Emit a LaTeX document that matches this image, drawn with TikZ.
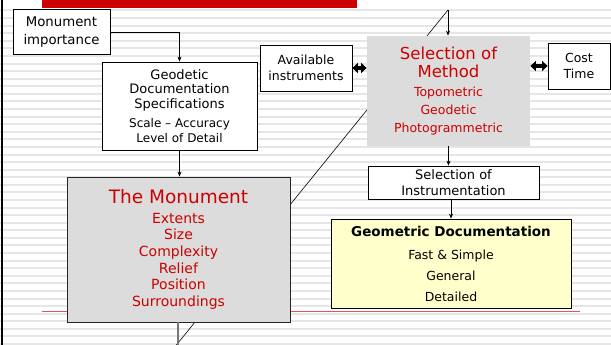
\documentclass[tikz,border=0pt]{standalone}
\usepackage{fontspec}
\setmainfont{DejaVu Sans}
\usetikzlibrary{arrows.meta}
\definecolor{stripe}{HTML}{E6E6E6}
\definecolor{darkred}{HTML}{CC0000}
\definecolor{boxgray}{HTML}{DCDCDC}
\definecolor{paleyellow}{HTML}{FFFFCC}
\definecolor{redline}{HTML}{E05555}
\definecolor{linegray}{HTML}{777777}
\begin{document}
\begin{tikzpicture}[x=1pt,y=-1pt,
  box/.style={draw=black,line width=0.8pt,fill=white,inner sep=0pt,align=center,font=\fontsize{12.5}{16}\selectfont},
  arr/.style={-{Stealth[length=5pt,width=4pt]},line width=0.6pt},
  dbl/.style={{Triangle[length=5.5pt,width=10pt]}-{Triangle[length=5.5pt,width=10pt]},line width=4pt},
]
\useasboundingbox (0,0) rectangle (611,345);
\fill[white] (0,0) rectangle (611,345);
\foreach \i in {0,...,44} {\fill[stripe] (0,{9.5+7.58*\i}) rectangle (611,{11.5+7.58*\i});}
\fill[black] (1,0) rectangle (3,345);
\fill[darkred] (42,0) rectangle (357,8);
\draw[redline,line width=1pt] (42,311) -- (580,311);

\coordinate (top) at (448,10);
\coordinate (diagend) at (176.4,345);
\coordinate (monbot) at (178,345);
\draw[line width=0.6pt] (top) -- (diagend);

% nodes
\node[box,minimum width=97pt,minimum height=45pt,font=\fontsize{13.3}{18}\selectfont] (mi) at (61.5,32) {Monument\\importance};
\node[box,minimum width=155pt,minimum height=88pt,font=\fontsize{13}{14.5}\selectfont] (geo) at (179.5,106)
  {Geodetic\\Documentation\\Specifications\\[5pt]{\fontsize{12}{12}\selectfont Scale – Accuracy}\\{\fontsize{12}{12}\selectfont Level of Detail}};
\node[box,fill=boxgray,draw=black!85,minimum width=223pt,minimum height=145pt,text=darkred,font=\fontsize{14}{16.7}\selectfont] (mon) at (178.5,249.5)
  {{\fontsize{18.5}{20}\selectfont The Monument}\\[3pt]Extents\\Size\\Complexity\\Relief\\Position\\Surroundings};
\node[box,minimum width=92pt,minimum height=46pt,font=\fontsize{12.5}{16}\selectfont] (avail) at (306,68) {Available\\instruments};
\node[box,draw=none,fill=boxgray,minimum width=163pt,minimum height=110pt,text=darkred,font=\fontsize{12.5}{18}\selectfont] (sel) at (448.5,91)
  {{\fontsize{16.5}{21}\selectfont Selection of}\\{\fontsize{16.5}{21}\selectfont Method}\\[1pt]Topometric\\Geodetic\\Photogrammetric};
\node[box,minimum width=62pt,minimum height=46pt,font=\fontsize{12.5}{15.5}\selectfont] (cost) at (579,66) {Cost\\Time};
\node[box,minimum width=171pt,minimum height=33pt,font=\fontsize{13}{16.5}\selectfont] (si) at (453.5,182.5) {Selection of\\Instrumentation};
\node[box,fill=paleyellow,minimum width=240pt,minimum height=89pt,font=\fontsize{12.5}{21}\selectfont] (gd) at (451,263.5)
  {{\bfseries\fontsize{13.5}{21}\selectfont Geometric Documentation}\\[2pt]Fast \& Simple\\General\\Detailed};

% connectors
\draw[arr] (mi.east) -| (geo.north);
\draw[arr] (geo.south) -- (geo.south |- mon.north);
\draw[arr] (top) -- (top |- sel.north);
\draw[arr] (sel.south) -- (sel.south |- si.north);
\draw[arr] (gd.north |- si.south) -- (gd.north);
\draw[dbl] (avail.east) -- (avail.east -| sel.west);
\draw[dbl] (sel.east |- cost.west) -- (cost.west);
\draw[linegray,line width=1.2pt] (mon.south -| monbot) -- (monbot);
\end{tikzpicture}
\end{document}
